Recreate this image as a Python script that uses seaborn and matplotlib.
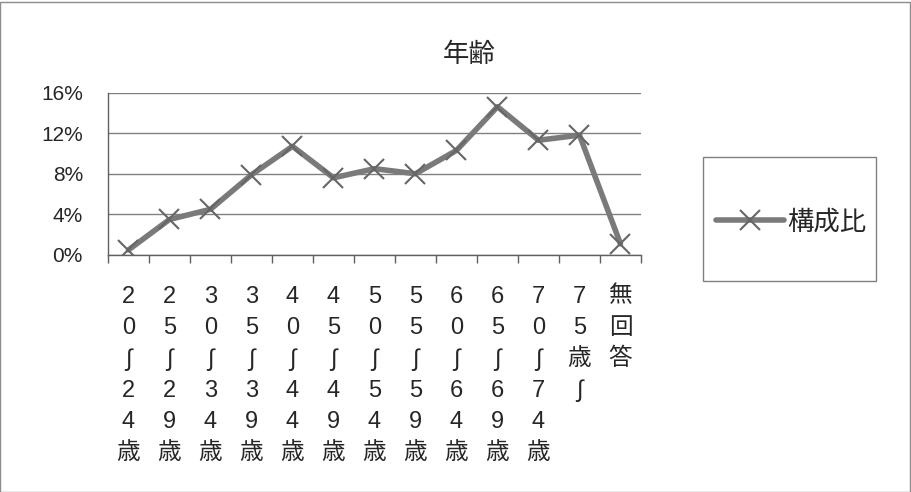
import pandas as pd
import matplotlib.pyplot as plt
import seaborn as sns
from matplotlib.patches import Rectangle
from matplotlib.ticker import FixedLocator, PercentFormatter

# data
age_groups = ['20～24歳', '25～29歳', '30～34歳', '35～39歳', '40～44歳', '45～49歳',
              '50～54歳', '55～59歳', '60～64歳', '65～69歳', '70～74歳', '75歳～', '無回答']
share = [0.5, 3.5, 4.5, 7.9, 10.7, 7.6, 8.5, 8.0, 10.3, 14.6, 11.3, 11.8, 1.1]
y_ticks = [0, 4, 8, 12, 16]

sns.set_style('white')
plt.rcParams['font.family'] = ['Liberation Sans', 'DejaVu Sans', 'Noto Sans CJK JP']

# vertical labels: one char per line, wave dash shown as vertical wave
def vert(s):
    return '\n'.join('∫' if c == '～' else c for c in s)

df = pd.DataFrame({'x': range(len(age_groups)), 'share': share})

fig = plt.figure(figsize=(9.12, 4.92), dpi=100)
ax = fig.add_axes([108 / 912, 1 - 255 / 492, 533 / 912, 162.5 / 492])

sns.lineplot(data=df, x='x', y='share', ax=ax, color='#7a7a7a', linewidth=4,
             marker='x', markersize=14, markeredgewidth=1.5, markeredgecolor='#666666',
             sort=False, label='構成比', legend=False)

ax.set_xlim(-0.5, len(age_groups) - 0.5)
ax.set_ylim(0, 16)
ax.set_yticks(y_ticks)
ax.yaxis.set_major_formatter(PercentFormatter(decimals=0))
ax.yaxis.grid(True, color='#808080', linewidth=1)
ax.set_axisbelow(True)

ax.set_xticks(range(len(age_groups)))
ax.set_xticklabels([vert(s) for s in age_groups], fontsize=17, linespacing=1.53, va='top')
ax.xaxis.set_minor_locator(FixedLocator([i - 0.5 for i in range(len(age_groups) + 1)]))
ax.tick_params(axis='x', which='major', length=0, pad=22)
ax.tick_params(axis='x', which='minor', length=6, width=1, color='#606060', direction='out', bottom=True)
ax.tick_params(axis='y', length=0, labelsize=15, pad=18)

ax.set_xlabel('')
ax.set_ylabel('')
for side in ['top', 'right']:
    ax.spines[side].set_visible(False)
for side in ['left', 'bottom']:
    ax.spines[side].set_color('#606060')
    ax.spines[side].set_linewidth(1)

fig.text(469 / 912, 1 - 55 / 492, '年齢', ha='center', va='center', fontsize=19)

# legend box
fig.patches.append(Rectangle((703 / 912, 1 - 281 / 492), 173 / 912, 124 / 492,
                             transform=fig.transFigure, fill=False,
                             edgecolor='#808080', linewidth=1))
handles, labels = ax.get_legend_handles_labels()
fig.legend(handles, labels, loc='center', bbox_to_anchor=(791 / 912, 1 - 222 / 492),
           frameon=False, fontsize=19, handlelength=2.6, handletextpad=0.1)

# outer frame
fig.patches.append(Rectangle((0.5 / 912, 0.5 / 492), 910 / 912, 490 / 492,
                             transform=fig.transFigure, fill=False,
                             edgecolor='#8c8c8c', linewidth=1))

fig.savefig('out.png', dpi=100)
